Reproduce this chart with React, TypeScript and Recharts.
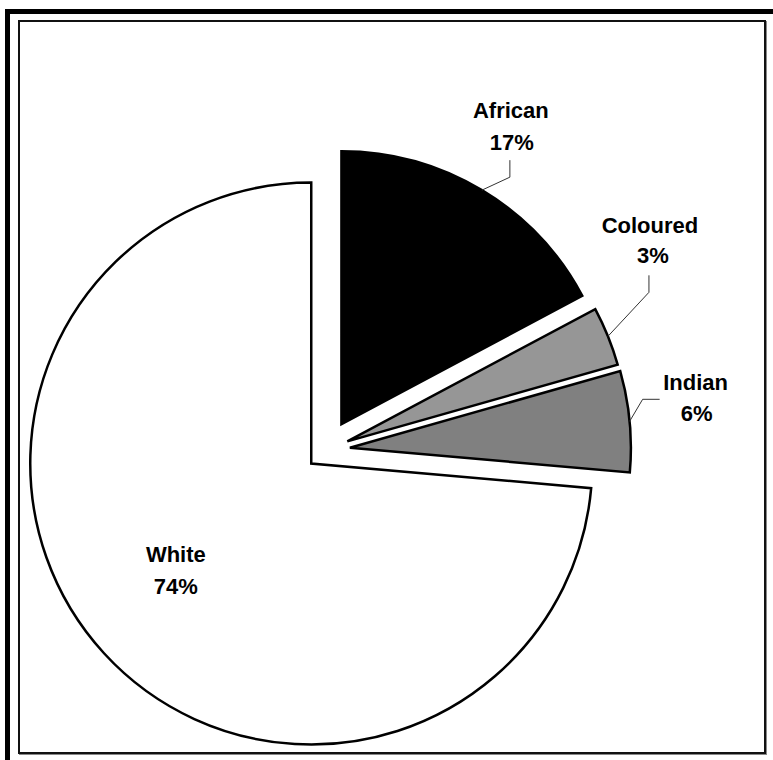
import React from 'react';
import { PieChart, Pie, Cell } from 'recharts';

// population shares
const groups = ['African', 'Coloured', 'Indian', 'White'];
const shares = [17.2, 3.4, 5.8, 73.6];
const sliceColors = ['#000000', '#969696', '#808080', '#ffffff'];

const data = groups.map((name, i) => ({ name, value: shares[i] }));

const W = 773;
const H = 760;
const BASE_X = 326;
const BASE_Y = 450;
// per-slice explode distance and radius
const explode = [30, 23, 24, 20];
const radii = [273, 281, 281, 281];

// label placement relative to the point on the arc at the slice's mid angle
const labelPlacement = [
  { elbow: [28, -13], end: [28, -30], t1: [29, -80], t2: [30, -48] },
  { elbow: [41, -44], end: [41, -61], t1: [42, -111], t2: [45, -81] },
  { elbow: [13, -22], end: [30, -22], t1: [66, -39], t2: [67, -8] },
  null,
];
const RAD = Math.PI / 180;

const total = shares.reduce((a, b) => a + b, 0);
// mid angles (clockwise from 12 o'clock) used for exploding
const midAngles = shares.map((v, i) => {
  const before = shares.slice(0, i).reduce((a, b) => a + b, 0);
  return ((before + v / 2) / total) * 360;
});

const textStyle = {
  fontFamily: '"Liberation Sans", Arial, sans-serif',
  fontWeight: 700,
  fontSize: 22,
  fill: '#000',
};

const makeLabel = (target: number) => (props: any) => {
  const { cx, cy, midAngle, outerRadius, percent, index, name } = props;
  if (index !== target) return null;
  const pct = `${Math.round(percent * 100)}%`;
  const place = labelPlacement[index];
  if (!place) {
    // white slice: label inside
    const r = outerRadius * 0.61;
    const x = cx + r * Math.cos(-midAngle * RAD);
    const y = cy + r * Math.sin(-midAngle * RAD);
    return (
      <g>
        <text x={x - 9} y={y - 25} textAnchor="middle" dominantBaseline="central" style={textStyle}>{name}</text>
        <text x={x - 9} y={y + 7} textAnchor="middle" dominantBaseline="central" style={textStyle}>{pct}</text>
      </g>
    );
  }
  const px = cx + outerRadius * Math.cos(-midAngle * RAD);
  const py = cy + outerRadius * Math.sin(-midAngle * RAD);
  return (
    <g>
      <polyline
        points={`${px},${py} ${px + place.elbow[0]},${py + place.elbow[1]} ${px + place.end[0]},${py + place.end[1]}`}
        fill="none"
        stroke="#333"
        strokeWidth={1}
      />
      <text x={px + place.t1[0]} y={py + place.t1[1]} textAnchor="middle" dominantBaseline="central" style={textStyle}>{name}</text>
      <text x={px + place.t2[0]} y={py + place.t2[1]} textAnchor="middle" dominantBaseline="central" style={textStyle}>{pct}</text>
    </g>
  );
};

export default function App() {
  return (
    <div style={{ position: 'relative', width: W, height: H, overflow: 'hidden', background: '#fff' }}>
      <style>{'body{margin:0}'}</style>
      <div style={{ position: 'absolute', left: 5, top: 9, width: W, height: H, borderTop: '5px solid #000', borderLeft: '5px solid #000' }} />
      <div style={{ position: 'absolute', left: 18, top: 20, width: 744, height: 730, border: '2px solid #111', boxShadow: '1px 1px 0 #888' }} />
      <div style={{ position: 'absolute', left: 0, top: 0 }}>
        <PieChart width={W} height={H} margin={{ top: 0, right: 0, bottom: 0, left: 0 }}>
          {groups.map((g, k) => (
            <Pie
              key={g}
              data={data}
              dataKey="value"
              nameKey="name"
              cx={BASE_X + explode[k] * Math.sin(midAngles[k] * RAD)}
              cy={BASE_Y - explode[k] * Math.cos(midAngles[k] * RAD)}
              outerRadius={radii[k]}
              startAngle={90}
              endAngle={-270}
              isAnimationActive={false}
              labelLine={false}
              label={makeLabel(k)}
            >
              {data.map((d, i) => (
                <Cell
                  key={d.name}
                  fill={i === k ? sliceColors[i] : 'none'}
                  stroke={i === k ? '#000' : 'none'}
                  strokeWidth={i === k ? 2.5 : 0}
                />
              ))}
            </Pie>
          ))}
        </PieChart>
      </div>
    </div>
  );
}
